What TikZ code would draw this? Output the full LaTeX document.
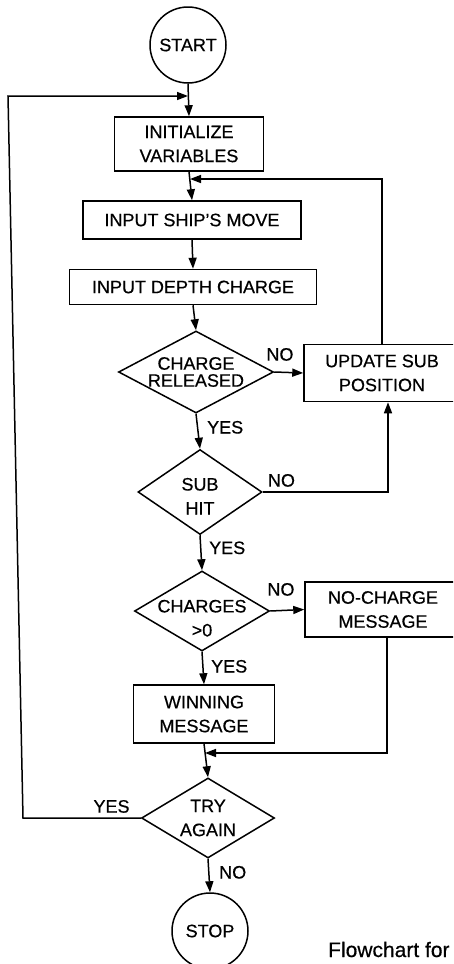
\documentclass[tikz,border=0pt]{standalone}
\usepackage{fontspec}
\setmainfont{Liberation Sans}[FakeBold=0.5]
\usetikzlibrary{positioning,arrows.meta,shapes.geometric}

\begin{document}
\begin{tikzpicture}[x=1pt,y=-1pt,
    every node/.style={font=\fontsize{18}{24}\selectfont},
    term/.style={circle,draw,line width=1.5pt,minimum size=76pt,inner sep=0pt},
    proc/.style={rectangle,draw,line width=1.5pt,align=center,inner sep=0pt},
    dec/.style={diamond,draw,line width=1.5pt,align=center,aspect=1.7,inner sep=-10pt},
    lbl/.style={inner sep=0pt},
    ptr/.style={->,>={Triangle[length=11pt,width=8pt]},line width=1.5pt}]

\clip (0,0) rectangle (453,964);

% Blocs du programme
\node[term] (start) at (188,45) {START};
\node[proc,minimum width=149pt,minimum height=54pt] (init) at (189,144) {INITIALIZE\\VARIABLES};
\node[proc,minimum width=218pt,minimum height=38pt] (ship) at (192,220) {INPUT SHIP'S MOVE};
\node[proc,minimum width=247pt,minimum height=35pt] (depth) at (193,287) {INPUT DEPTH CHARGE};
\node[dec,minimum width=155pt,minimum height=82pt] (released) at (196,372) {CHARGE\\[-7pt]RELEASED};
\node[proc,minimum width=156pt,minimum height=57pt] (update) at (382,373) {UPDATE SUB\\POSITION};
\node[dec,minimum width=124pt,minimum height=85pt] (hit) at (200,492) {\rule{0pt}{21pt}SUB\\HIT};
\node[dec,minimum width=135pt,minimum height=80pt] (charges) at (202,611) {\rule{0pt}{27pt}CHARGES\\{>}0};
\node[proc,minimum width=156pt,minimum height=55pt] (nocharge) at (383,609.5) {NO-CHARGE\\MESSAGE};
\node[proc,minimum width=141pt,minimum height=58pt] (win) at (204,714) {WINNING\\MESSAGE};
\node[dec,minimum width=133pt,minimum height=80pt] (again) at (208,818) {TRY\\AGAIN};
\node[term] (stop) at (210,931) {STOP};

% Points de jonction
\coordinate (m1) at (188,96);
\coordinate (m2) at (190,179);
\coordinate (m3) at (205,753);
\coordinate (ll) at (23,818);
\coordinate (lu) at (8,96);

% Liaisons
\draw[ptr] (start.south) -- (init.north);
\draw[ptr] (init.south) -- (ship.north);
\draw[ptr] (ship.south) -- (depth.north);
\draw[ptr] (depth.south) -- (released.north);
\draw[ptr] (released.east) -- (update.west);
\draw[ptr] (update.north) |- (m2);
\draw[ptr] (released.south) -- (hit.north);
\draw[ptr] (hit.east) -| ([xshift=6pt]update.south);
\draw[ptr] (hit.south) -- (charges.north);
\draw[ptr] (charges.east) -- (nocharge.west);
\draw[ptr] (charges.south) -- (win.north);
\draw[ptr] ([xshift=4pt]nocharge.south) |- (m3);
\draw[ptr] (win.south) -- (again.north);
\draw[ptr] (again.west) -- (ll) -- (lu) -- (m1);
\draw[ptr] (again.south) -- (stop.north);

% Reponses
\node[lbl,above right=11pt and -8pt of released.east] (no1) {NO};
\node[lbl,below right=7pt and 11pt of released.south] (yes1) {YES};
\node[lbl,above right=5pt and 5pt of hit.east] (no2) {NO};
\node[lbl,below right=6pt and 9pt of hit.south] (yes2) {YES};
\node[lbl,above right=15pt and -3pt of charges.east] (no3) {NO};
\node[lbl,below right=8pt and 9pt of charges.south] (yes3) {YES};
\node[lbl,above left=5pt and 11pt of again.west] (yes4) {YES};
\node[lbl,below right=7pt and 11pt of again.south] (no4) {NO};

% Legende
\node[lbl,anchor=base west,font=\fontsize{21}{25}\selectfont] (caption) at (328,957) {Flowchart for};

\end{tikzpicture}
\end{document}
